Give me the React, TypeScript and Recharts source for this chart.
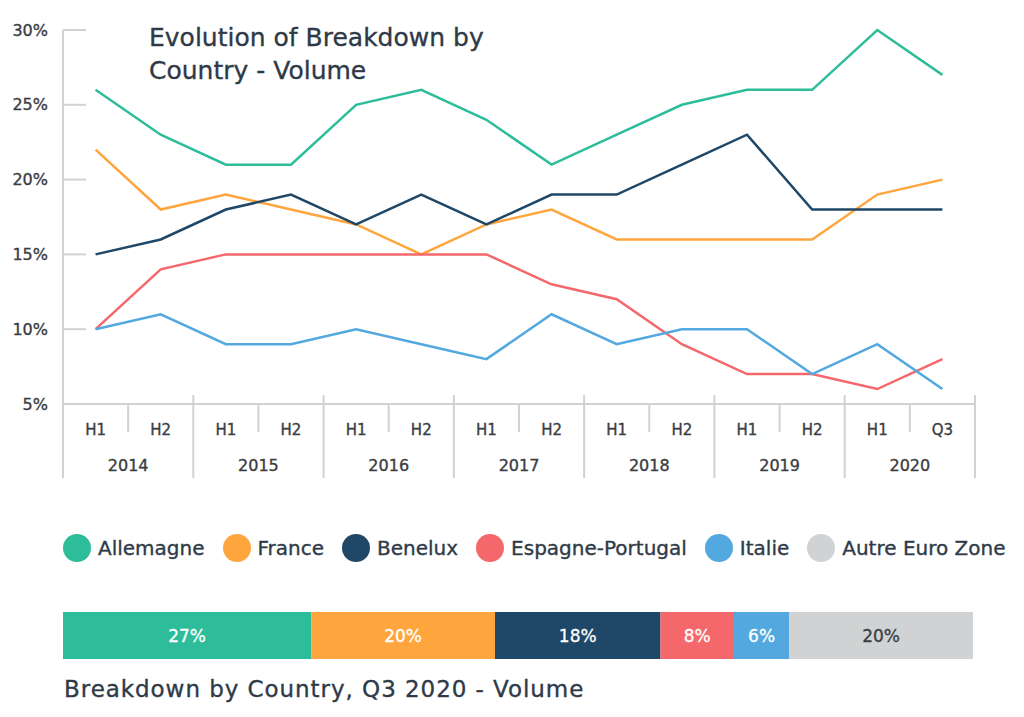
import { Bar, BarChart, LabelList, Legend, Line, LineChart, XAxis, YAxis } from 'recharts'

const periods = ['H1', 'H2', 'H1', 'H2', 'H1', 'H2', 'H1', 'H2', 'H1', 'H2', 'H1', 'H2', 'H1', 'Q3']
const years = ['2014', '2015', '2016', '2017', '2018', '2019', '2020']

const allemagne = [26, 23, 21, 21, 25, 26, 24, 21, 23, 25, 26, 26, 30, 27]
const france = [22, 18, 19, 18, 17, 15, 17, 18, 16, 16, 16, 16, 19, 20]
const benelux = [15, 16, 18, 19, 17, 19, 17, 19, 19, 21, 23, 18, 18, 18]
const espagne = [10, 14, 15, 15, 15, 15, 15, 13, 12, 9, 7, 7, 6, 8]
const italie = [10, 11, 9, 9, 10, 9, 8, 11, 9, 10, 10, 7, 9, 6]

const yTicks = [5, 10, 15, 20, 25, 30]

// Q3 2020 split
const shareNames = ['Allemagne', 'France', 'Benelux', 'Espagne-Portugal', 'Italie', 'Autre Euro Zone']
const shareValues = [27, 20, 18, 8, 6, 20]

const COLORS = ['#2dbd9b', '#ffa53e', '#1f4767', '#f4686b', '#53a9df', '#d1d2d3']
const TEXT = '#2f3a48'
const LABEL = '#3a3d42'
const AXIS = '#d2d2d2'
const FONT = '"DejaVu Sans", sans-serif'

const PLOT_W = 912
const BAND = PLOT_W / periods.length

const lineData = periods.map((p, i) => ({
  key: `${years[Math.floor(i / 2)]} ${p}`,
  Allemagne: allemagne[i],
  France: france[i],
  Benelux: benelux[i],
  'Espagne-Portugal': espagne[i],
  Italie: italie[i],
}))

const shareRow: Record<string, number | string> = { name: 'Q3 2020' }
shareNames.forEach((n, i) => (shareRow[n] = shareValues[i]))

// slightly heavier text, closer to the medium weight of the original
const svgText = { fill: LABEL, stroke: LABEL, strokeWidth: 0.35, fontFamily: FONT }
const htmlText = { color: TEXT, WebkitTextStroke: `0.35px ${TEXT}` }

function YTick(props: any) {
  const { x, y, payload } = props
  return (
    <g>
      <line x1={x} x2={x + 23} y1={y} y2={y} stroke={AXIS} strokeWidth={2} />
      <text x={x - 15} y={y} textAnchor="end" dominantBaseline="central" fontSize={16} {...svgText}>
        {payload.value}%
      </text>
    </g>
  )
}

function XTick(props: any) {
  const { x, y, index } = props
  const left = x - BAND / 2
  const first = index % 2 === 0
  return (
    <g>
      {first ? (
        <line x1={left} x2={left} y1={y - 9} y2={y + 74} stroke={AXIS} strokeWidth={2} />
      ) : (
        <line x1={left} x2={left} y1={y} y2={y + 28} stroke={AXIS} strokeWidth={2} />
      )}
      {index === periods.length - 1 && (
        <line x1={x + BAND / 2} x2={x + BAND / 2} y1={y - 9} y2={y + 74} stroke={AXIS} strokeWidth={2} />
      )}
      <text x={x} y={y + 26} textAnchor="middle" dominantBaseline="central" fontSize={15} {...svgText}>
        {periods[index]}
      </text>
      {first && (
        <text x={x + BAND / 2} y={y + 61} textAnchor="middle" dominantBaseline="central" fontSize={16} {...svgText}>
          {years[index / 2]}
        </text>
      )}
    </g>
  )
}

function LegendRow(props: any) {
  const items = [...(props.payload || [])].sort(
    (a: any, b: any) => shareNames.indexOf(a.value) - shareNames.indexOf(b.value),
  )
  return (
    <div style={{ height: 56, display: 'flex', alignItems: 'center', paddingLeft: 63, fontFamily: FONT }}>
      {items.map((it: any) => (
        <div key={it.value} style={{ display: 'flex', alignItems: 'center', marginRight: 18 }}>
          <span style={{ width: 28, height: 28, borderRadius: 14, background: it.color, display: 'inline-block', marginRight: 7 }} />
          <span style={{ fontSize: 20, ...htmlText }}>{it.value}</span>
        </div>
      ))}
    </div>
  )
}

export default function App() {
  return (
    <div style={{ position: 'absolute', left: 0, top: 0, width: 1024, height: 717, background: '#fff', fontFamily: FONT }}>
      <LineChart width={1024} height={500} data={lineData} margin={{ top: 30, right: 49, left: 0, bottom: 6 }}>
        <YAxis
          domain={[5, 30]}
          ticks={yTicks}
          width={63}
          tickSize={0}
          tickMargin={0}
          axisLine={{ stroke: AXIS, strokeWidth: 2 }}
          tickLine={false}
          tick={<YTick />}
          interval={0}
        />
        <XAxis
          dataKey="key"
          height={90}
          tickSize={0}
          tickMargin={0}
          padding={{ left: BAND / 2, right: BAND / 2 }}
          axisLine={{ stroke: AXIS, strokeWidth: 2 }}
          tickLine={false}
          tick={<XTick />}
          interval={0}
        />
        {['Allemagne', 'France', 'Benelux', 'Espagne-Portugal', 'Italie'].map((k, i) => (
          <Line key={k} dataKey={k} type="linear" stroke={COLORS[i]} strokeWidth={2.5} dot={false} isAnimationActive={false} />
        ))}
      </LineChart>

      <div style={{ position: 'absolute', left: 149, top: 21, fontSize: 25, lineHeight: '33px', ...htmlText }}>
        Evolution of Breakdown by
        <br />
        Country - Volume
      </div>

      <div style={{ position: 'absolute', left: 0, top: 520 }}>
        <BarChart width={1024} height={139} layout="vertical" data={[shareRow]} barCategoryGap={0} margin={{ top: 36, right: 51, left: 63, bottom: 0 }}>
          <XAxis type="number" domain={[0, 99]} hide />
          <YAxis type="category" dataKey="name" hide />
          <Legend verticalAlign="top" align="left" wrapperStyle={{ top: 0, left: 0, width: 1024 }} content={<LegendRow />} />
          {shareNames.map((n, i) => (
            <Bar key={n} dataKey={n} stackId="s" fill={COLORS[i]} isAnimationActive={false}>
              <LabelList
                dataKey={n}
                position="center"
                formatter={(v: any) => `${v}%`}
                fill={i === 5 ? LABEL : '#fff'}
                stroke={i === 5 ? LABEL : '#fff'}
                strokeWidth={0.3}
                fontSize={17}
                fontFamily={FONT}
              />
            </Bar>
          ))}
        </BarChart>
      </div>

      <div style={{ position: 'absolute', left: 64, top: 676, fontSize: 23, letterSpacing: 0.95, ...htmlText }}>
        Breakdown by Country, Q3 2020 - Volume
      </div>
    </div>
  )
}
